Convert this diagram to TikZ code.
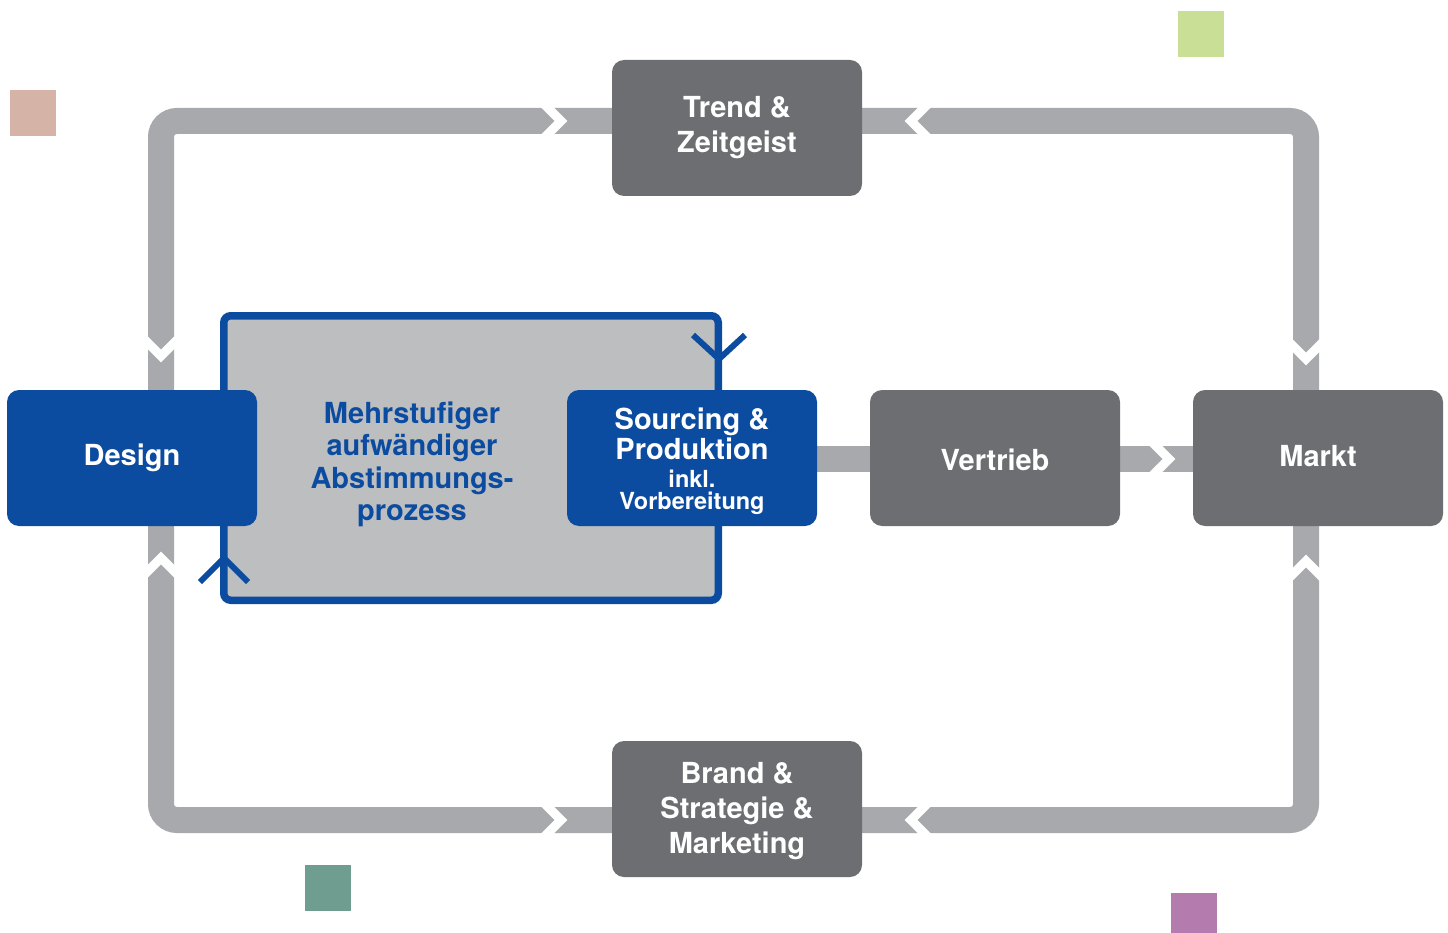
\documentclass[tikz,border=0pt]{standalone}
\usepackage{fontspec}
\setmainfont{TeX Gyre Heros}
\definecolor{boxgray}{HTML}{6D6E71}
\definecolor{trackgray}{HTML}{A7A9AC}
\definecolor{procfill}{HTML}{BCBEC0}
\definecolor{myblue}{HTML}{0C4CA0}
\definecolor{sqtan}{HTML}{D5B3A6}
\definecolor{sqgreen}{HTML}{C8DF95}
\definecolor{sqteal}{HTML}{6F9D8F}
\definecolor{sqpurple}{HTML}{B47BAE}
\pgfdeclarelayer{background}
\pgfsetlayers{background,main}
\begin{document}
\begin{tikzpicture}[x=1pt,y=-1pt,
  stage/.style={rectangle,rounded corners=12pt,minimum width=250pt,minimum height=136pt,inner sep=0pt,
    text=white,align=center,font=\fontsize{29}{35}\selectfont\bfseries},
  graystage/.style={stage,fill=boxgray},
  bluestage/.style={stage,fill=myblue},
  stagetext/.style={text=white,align=center,inner sep=0pt,font=\fontsize{29}{35}\selectfont\bfseries},
  track/.style={draw=trackgray,line width=26pt,rounded corners=16pt},
  chev/.style={draw=white,line width=9pt,miter limit=10},
  bluev/.style={draw=myblue,line width=6pt,miter limit=10},
  square/.style={minimum size=46pt,inner sep=0pt,outer sep=0pt}
]
\useasboundingbox (0,0) rectangle (1448,933);
% squares
\node[square,fill=sqtan] (sq1) at (33,113) {};
\node[square,fill=sqgreen] (sq2) at (1201,34) {};
\node[square,fill=sqteal] (sq3) at (328,888) {};
\node[square,fill=sqpurple] (sq4) at (1194,916) {};
% corner coordinates of the track
\coordinate (tl) at (161,121);
\coordinate (tr) at (1306,121);
\coordinate (br) at (1306,820);
\coordinate (bl) at (161,820);
% process box
\node[draw=myblue,line width=7.5pt,fill=procfill,rounded corners=7pt,minimum width=494.5pt,minimum height=284.5pt,inner sep=0pt] (proc) at (471,458) {};
\node[text=myblue,align=center,font=\fontsize{29}{32.5}\selectfont\bfseries] (proctext) at (412,464.5) {Mehrstufiger\\aufwändiger\\Abstimmungs-\\prozess};
\draw[bluev] (693,335) -- (719,359) -- (745,335);
\draw[bluev] (200,582) -- (224,558) -- (248,582);
% stages
\node[graystage] (trend) at (737,128) {};
\node[stagetext] (trendtext) at (737,128) {Trend \&\\Zeitgeist};
\node[bluestage] (design) at (132,458) {Design};
\node[bluestage] (sourcing) at (692,458) {};
\node[text=white,align=center,font=\fontsize{29}{30}\selectfont\bfseries] (srctext1) at (692,434) {Sourcing \&\\Produktion};
\node[text=white,align=center,font=\fontsize{23.5}{22}\selectfont\bfseries] (srctext2) at (692,492) {inkl.\\Vorbereitung};
\node[graystage] (vertrieb) at (995,458) {};
\node[stagetext] (vertriebtext) at (995,460) {Vertrieb};
\node[graystage] (markt) at (1318,458) {};
\node[stagetext] (markttext) at (1318,456) {Markt};
\node[graystage] (brand) at (737,809) {};
\node[stagetext] (brandtext) at (737,811.5) {Brand \&\\Strategie \&\\Marketing};
% track
\begin{pgfonlayer}{background}
\draw[track] (trend.west |- tl) -- (tl) -- (design.north -| tl);
\draw[track] (design.south -| tl) -- (bl) -- (brand.west |- bl);
\draw[track] (brand.east |- br) -- (br) -- (markt.south -| br);
\draw[track] (markt.north -| br) -- (tr) -- (trend.east |- tr);
\draw[track] (sourcing.east |- 0,459) -- (vertrieb.west |- 0,459);
\draw[track] (vertrieb.east |- 0,459) -- (markt.west |- 0,459);
% chevron gaps
\draw[chev] (544,104) -- (561,121) -- (544,138);
\draw[chev] (928,104) -- (911,121) -- (928,138);
\draw[chev] (544,803) -- (561,820) -- (544,837);
\draw[chev] (928,803) -- (911,820) -- (928,837);
\draw[chev] (1152,442) -- (1169,459) -- (1152,476);
\draw[chev] (144,339) -- (161,356) -- (178,339);
\draw[chev] (144,575) -- (161,558) -- (178,575);
\draw[chev] (1289,342) -- (1306,359) -- (1323,342);
\draw[chev] (1289,578) -- (1306,561) -- (1323,578);
\end{pgfonlayer}
\end{tikzpicture}
\end{document}
